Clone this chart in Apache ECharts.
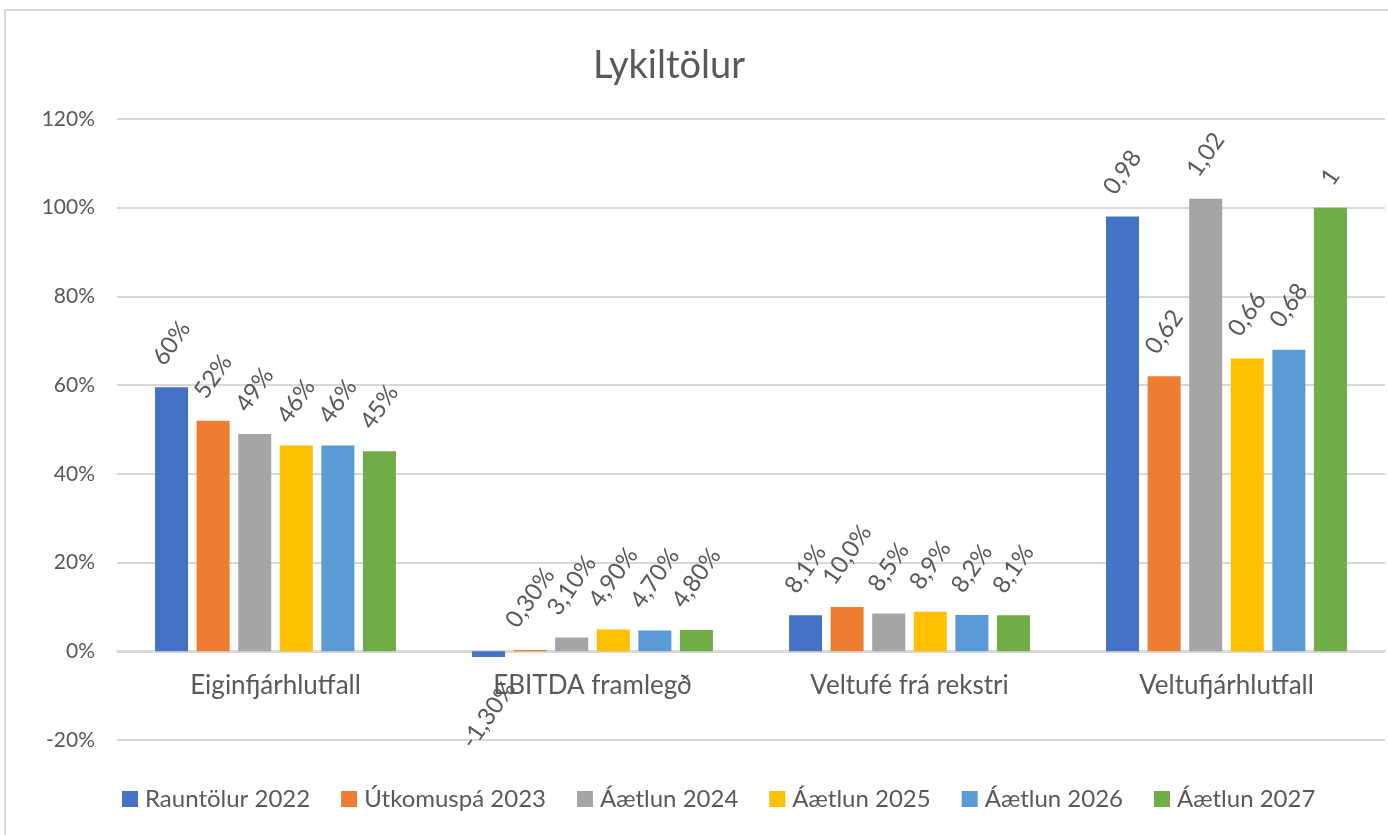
<!DOCTYPE html>
<html>
<head>
<meta charset="utf-8">
<title>Lykiltölur</title>
<script src="https://cdn.jsdelivr.net/npm/echarts@6/dist/echarts.min.js"></script>
<style>
  html, body { margin: 0; padding: 0; background: #fff; }
  .frame {
    position: absolute;
    left: 4px;
    top: 9px;
    width: 1400px;
    height: 840px;
    border-top: 2px solid #d9d9d9;
    border-left: 2px solid #d9d9d9;
    pointer-events: none;
  }
  #chart { width: 1388px; height: 835px; }
</style>
</head>
<body>
<div id="chart"></div>
<div class="frame"></div>
<script>
const categories = ['Eiginfjárhlutfall', 'EBITDA framlegð', 'Veltufé frá rekstri', 'Veltufjárhlutfall']
const seriesNames = ['Rauntölur 2022', 'Útkomuspá 2023', 'Áætlun 2024', 'Áætlun 2025', 'Áætlun 2026', 'Áætlun 2027']

// values in percent, one array per series (order follows categories)
const rauntolur2022 = [59.5, -1.3, 8.1, 98]
const utkomuspa2023 = [52.0, 0.3, 10.0, 62]
const aaetlun2024 = [49.0, 3.1, 8.5, 102]
const aaetlun2025 = [46.4, 4.9, 8.9, 66]
const aaetlun2026 = [46.4, 4.7, 8.2, 68]
const aaetlun2027 = [45.1, 4.8, 8.1, 100]
const seriesValues = [rauntolur2022, utkomuspa2023, aaetlun2024, aaetlun2025, aaetlun2026, aaetlun2027]

const yTicks = [-20, 0, 20, 40, 60, 80, 100, 120]
const colors = ['#4472C4', '#ED7D31', '#A5A5A5', '#FFC000', '#5B9BD5', '#70AD47']

const textColor = '#595959'
const fontFamily = 'Lato, "Open Sans", sans-serif'
const labelGap = 18
const negLabelGap = 20

// label text differs per category, like in the sheet
const formatLabel = (v, catIndex) => {
  if (catIndex === 0) return Math.round(v) + '%'
  if (catIndex === 1) return v.toFixed(2).replace('.', ',') + '%'
  if (catIndex === 2) return v.toFixed(1).replace('.', ',') + '%'
  return String(Number((v / 100).toFixed(2))).replace('.', ',')
}

const myChart = echarts.init(document.getElementById('chart'))

const series = seriesNames.map((name, s) => ({
  name: name,
  type: 'bar',
  barWidth: 33,
  barGap: '26%',
  itemStyle: { color: colors[s] },
  label: {
    show: true,
    position: 'top',
    rotate: 55,
    align: 'center',
    verticalAlign: 'middle',
    color: textColor,
    fontFamily: fontFamily,
    fontSize: 24,
    formatter: (p) => formatLabel(p.value, p.dataIndex)
  },
  labelLayout: (p) => {
    const v = seriesValues[p.seriesIndex][p.dataIndex]
    const half = p.labelRect.height / 2
    const cx = p.rect.x + p.rect.width / 2
    const y = v >= 0 ? p.rect.y - half - labelGap : p.rect.y + p.rect.height + half + negLabelGap
    return { x: cx, y: y, align: 'center', verticalAlign: 'middle' }
  },
  emphasis: { disabled: true },
  data: seriesValues[s]
}))

const options = {
  animation: false,
  title: {
    text: 'Lykiltölur',
    left: 664,
    top: 42,
    textAlign: 'center',
    textStyle: { color: textColor, fontFamily: fontFamily, fontSize: 38, fontWeight: 'normal' }
  },
  legend: {
    data: seriesNames,
    left: 117,
    top: 782,
    itemWidth: 16,
    itemHeight: 16,
    itemGap: 31,
    icon: 'rect',
    textStyle: { color: textColor, fontFamily: fontFamily, fontSize: 24, padding: [0, 0, 0, 2] }
  },
  grid: { left: 117, right: 3, top: 119, bottom: 95, containLabel: false },
  xAxis: {
    type: 'category',
    data: categories,
    // axis sits on the 0% line (one 20% step above the bottom of the grid)
    offset: -89,
    axisLine: { onZero: false, lineStyle: { color: '#d9d9d9', width: 2 } },
    axisTick: { show: false },
    axisLabel: { color: textColor, fontFamily: fontFamily, fontSize: 26, margin: 22 }
  },
  yAxis: {
    type: 'value',
    min: yTicks[0],
    max: yTicks[yTicks.length - 1],
    interval: 20,
    axisLine: { show: false },
    axisTick: { show: false },
    splitLine: { lineStyle: { color: '#d9d9d9', width: 2 } },
    axisLabel: { color: textColor, fontFamily: fontFamily, fontSize: 21, margin: 22, formatter: (v) => v + '%' }
  },
  series: series
}

myChart.setOption(options)

window.addEventListener('resize', () => {
  myChart.resize()
})
</script>
</body>
</html>
